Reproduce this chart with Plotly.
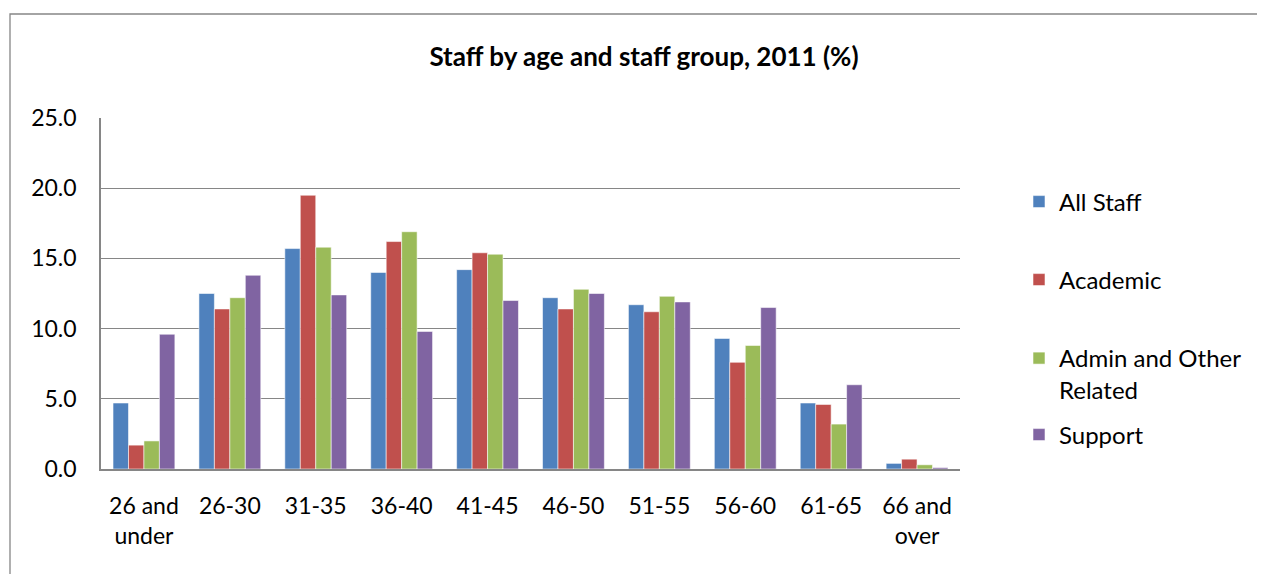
import plotly.graph_objects as go

categories = ["26 and<br>under", "26-30", "31-35", "36-40", "41-45", "46-50", "51-55", "56-60", "61-65", "66 and<br>over"]
all_staff = [4.7, 12.5, 15.7, 14.0, 14.2, 12.2, 11.7, 9.3, 4.7, 0.4]
academic = [1.7, 11.4, 19.5, 16.2, 15.4, 11.4, 11.2, 7.6, 4.6, 0.7]
admin = [2.0, 12.2, 15.8, 16.9, 15.3, 12.8, 12.3, 8.8, 3.2, 0.3]
support = [9.6, 13.8, 12.4, 9.8, 12.0, 12.5, 11.9, 11.5, 6.0, 0.1]

series_names = ["All Staff", "Academic", "Admin and Other<br>Related", "Support"]
series_values = [all_staff, academic, admin, support]
colors = ["#4F81BD", "#C0504D", "#9BBB59", "#8064A2"]
legend_ids = ["legend", "legend2", "legend3", "legend4"]

FONT = "Lato, Carlito, Calibri, sans-serif"

OFF = 8  # browser body margin
W, H = 1265 - OFF, 574 - OFF
L, T = 101 - OFF, 118 - OFF
pw, ph = 859, 351
R = W - L - pw
B = H - T - ph

def px_x(px):
    return (px - OFF - L) / pw

def px_y(py):
    return (H - B - (py - OFF)) / ph

fig = go.Figure()
for name, vals, col, lg in zip(series_names, series_values, colors, legend_ids):
    fig.add_trace(go.Bar(
        x=categories, y=vals, name=name,
        marker=dict(color=col, line=dict(color="rgba(255,255,255,0.55)", width=1)),
        legend=lg,
    ))

legend_rows = [202, 280, 356, 435]
leg_common = dict(
    bgcolor="rgba(0,0,0,0)", borderwidth=0,
    font=dict(family=FONT, size=24, color="#000000"),
    xanchor="left", yanchor="middle", valign="top",
)
layout_legends = {}
for lg, row in zip(legend_ids, legend_rows):
    d = dict(leg_common)
    d["x"] = px_x(1019)
    if lg == "legend3":
        d["yanchor"] = "top"
        d["y"] = px_y(row - 20)
    else:
        d["y"] = px_y(row)
    layout_legends[lg] = d

grid_col = "#868686"
fig.update_layout(
    width=W, height=H,
    margin=dict(l=L, r=R, t=T, b=B, autoexpand=False),
    paper_bgcolor="white", plot_bgcolor="white",
    barmode="group", bargap=0.28, bargroupgap=0,
    title=dict(
        text="<b>Staff by age and staff group, 2011 (%)</b>",
        font=dict(family=FONT, size=26, color="#000000"),
        x=(644 - OFF) / W, xanchor="center", y=1 - (57 - OFF) / H, yanchor="middle",
    ),
    showlegend=True,
    xaxis=dict(
        showgrid=False, showline=True, linecolor=grid_col, linewidth=1.5,
        ticks="", tickfont=dict(family=FONT, size=23, color="#000000"),
        ticklabelstandoff=16,
    ),
    yaxis=dict(
        range=[0, 25], dtick=5, tick0=0, tickformat=".1f",
        showgrid=True, gridcolor=grid_col, gridwidth=1.2,
        showline=True, linecolor=grid_col, linewidth=1.5,
        zeroline=False, ticks="",
        tickfont=dict(family=FONT, size=23, color="#000000"),
        ticklabelstandoff=18,
    ),
    shapes=[dict(
        type="path", xref="paper", yref="paper",
        path=f"M {px_x(10)},{px_y(590)} L {px_x(10)},{px_y(14)} L {px_x(1280)},{px_y(14)}",
        line=dict(color="#868686", width=1.3),
    )],
    **layout_legends,
)

fig.write_html("out.html")
